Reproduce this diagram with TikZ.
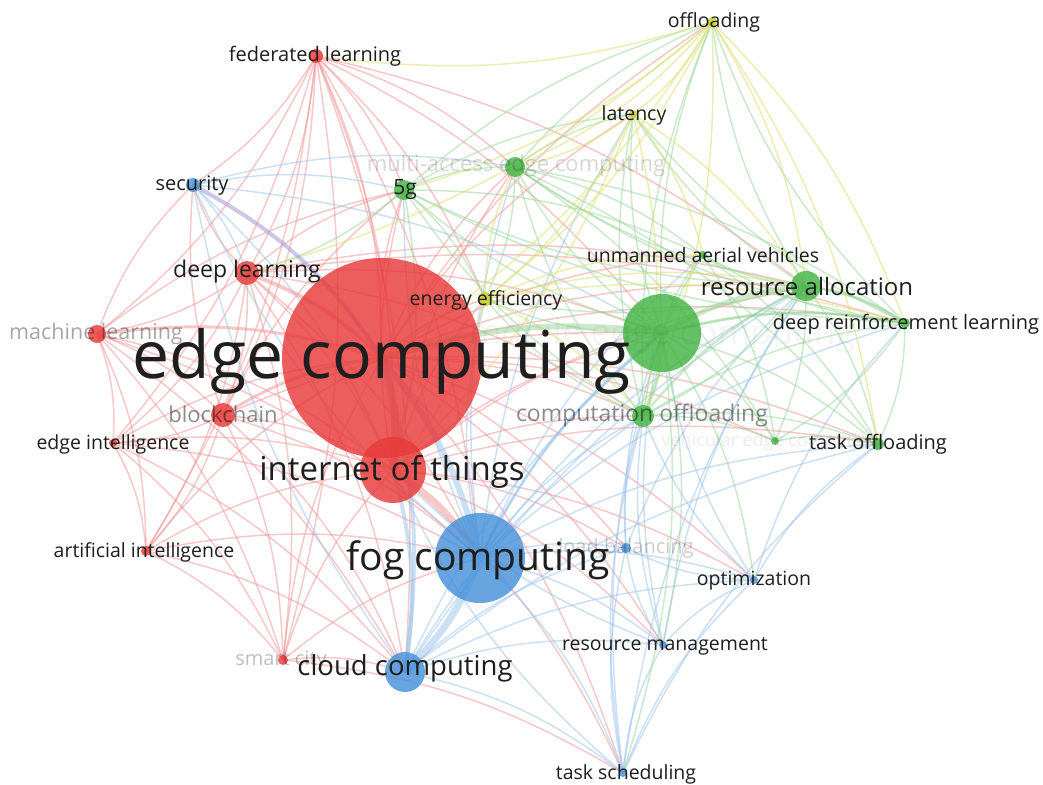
\documentclass[tikz,border=0pt]{standalone}
\usepackage{fontspec}
\setmainfont{Open Sans}
\pgfdeclarelayer{edges}
\pgfsetlayers{edges,main}
\definecolor{cR}{RGB}{232,58,58}
\definecolor{cG}{RGB}{68,180,68}
\definecolor{cB}{RGB}{70,145,218}
\definecolor{cY}{RGB}{200,208,40}
\definecolor{txt}{RGB}{30,30,30}
\definecolor{cP}{RGB}{170,160,215}
\begin{document}
\begin{tikzpicture}[x=1pt,y=-1pt,
  kw/.style={circle,inner sep=0pt,draw=none,fill opacity=0.82},
  lab/.style={inner sep=0pt,text=txt},
  faint/.style={text=black,text opacity=#1},
  fs/.style={font=\fontsize{#1}{#1}\selectfont},
  er/.style={draw=cR!55!white,line width=1.5pt,draw opacity=0.5},
  eb/.style={draw=cB!55!white,line width=1.5pt,draw opacity=0.5},
  eg/.style={draw=cG!55!white,line width=1.5pt,draw opacity=0.5},
  ey/.style={draw=cY!65!white,line width=1.5pt,draw opacity=0.55},
  bnd/.style={bend left=12}]
\useasboundingbox (0,0) rectangle (1043,784);
% ---- nodes (circles)
\node[kw,fill=cR,minimum size=200pt] (ec) at (382,358) {};
\node[kw,fill=cG,minimum size=78pt] (mec) at (662,333) {};
\node[kw,fill=cB,minimum size=90pt] (fog) at (480,558) {};
\node[kw,fill=cR,minimum size=66pt] (iot) at (393,470) {};
\node[kw,fill=cB,minimum size=40pt] (cc) at (405,672) {};
\node[kw,fill=cG,minimum size=30pt] (ra) at (806,286) {};
\node[kw,fill=cG,minimum size=22pt] (co) at (643,416) {};
\node[kw,fill=cR,minimum size=24pt] (dl) at (247,273) {};
\node[kw,fill=cR,minimum size=24pt] (bc) at (223,415) {};
\node[kw,fill=cR,minimum size=18pt] (ml) at (97,334) {};
\node[kw,fill=cG,minimum size=20pt] (g5) at (404,190) {};
\node[kw,fill=cG,minimum size=20pt] (mae) at (515,167) {};
\node[kw,fill=cR,minimum size=14pt] (fl) at (316,56) {};
\node[kw,fill=cB,minimum size=14pt] (sec) at (193,185) {};
\node[kw,fill=cY,minimum size=14pt] (ee) at (485,299) {};
\node[kw,fill=cG,minimum size=12pt] (tof) at (878,444) {};
\node[kw,fill=cG,minimum size=10pt] (drl) at (905,323) {};
\node[kw,fill=cG,minimum size=8pt] (uav) at (703,255) {};
\node[kw,fill=cG,minimum size=8pt] (vec) at (775,441) {};
\node[kw,fill=cY,minimum size=10pt] (off) at (712,22) {};
\node[kw,fill=cY,minimum size=8pt] (lat) at (633,114) {};
\node[kw,fill=cR,minimum size=8pt] (ei) at (113,443) {};
\node[kw,fill=cR,minimum size=10pt] (ai) at (146,551) {};
\node[kw,fill=cR,minimum size=10pt] (sc) at (283,660) {};
\node[kw,fill=cB,minimum size=10pt] (lb) at (626,548) {};
\node[kw,fill=cB,minimum size=8pt] (opt) at (754,580) {};
\node[kw,fill=cB,minimum size=8pt] (rm) at (663,645) {};
\node[kw,fill=cB,minimum size=8pt] (ts) at (623,773) {};
% ---- edges
\begin{pgfonlayer}{edges}
\path[fill=white] (0,0) rectangle (1043,784);
\foreach \a/\b in {ec/co,ec/ra,ec/drl,ec/tof,ec/uav,ec/g5,ec/mae,ec/off,ec/lat,ec/ee,ec/opt,ec/rm,ec/ts,ec/lb,ec/vec,
  iot/g5,iot/mec,iot/co,iot/ra,iot/ee,iot/lb,iot/rm,iot/ts,iot/opt,iot/mae,iot/tof,
  fl/iot,fl/dl,fl/ml,fl/bc,fl/ai,fl/ei,fl/g5,fl/mae,fl/sec,fl/cc,fl/fog,fl/sc,fl/mec,fl/ee,fl/ra,fl/ec,
  dl/iot,dl/ml,dl/bc,dl/ei,dl/ai,dl/sc,dl/cc,dl/fog,dl/g5,dl/sec,dl/mec,dl/co,dl/ra,dl/drl,
  ml/iot,ml/bc,ml/ei,ml/ai,ml/sc,ml/cc,ml/fog,ml/g5,ml/sec,
  bc/iot,bc/ei,bc/ai,bc/sc,bc/cc,bc/fog,bc/g5,bc/sec,bc/mec,
  ei/ec,ei/iot,ei/ai,ei/sc,ei/cc,ei/fog,
  ai/ec,ai/iot,ai/sc,ai/cc,ai/fog,
  sc/ec,sc/iot,sc/cc,sc/fog,sc/ts}
  \draw[er] (\a.center) to[bnd] (\b.center);
\foreach \a/\b in {fog/sec,fog/ts,fog/rm,fog/opt,fog/lb,fog/mec,fog/co,fog/ra,fog/tof,fog/drl,fog/g5,fog/mae,fog/ee,fog/lat,fog/uav,
  cc/sec,cc/ts,cc/rm,cc/opt,cc/lb,cc/mec,cc/co,cc/ra,cc/tof,
  sec/iot,sec/g5,sec/mae,sec/mec,sec/dl,
  ts/rm,ts/opt,ts/lb,ts/co,ts/mec,ts/tof,ts/ra,ts/iot,
  rm/opt,rm/lb,rm/mec,rm/co,rm/ra,rm/iot,
  opt/lb,opt/mec,opt/co,opt/tof,opt/drl,
  lb/mec,lb/co,lb/ra}
  \draw[eb] (\a.center) to[bnd] (\b.center);
\foreach \a/\b in {mec/tof,mec/drl,mec/uav,mec/vec,mec/g5,mec/mae,mec/off,mec/lat,mec/ee,mec/opt,mec/rm,mec/ts,
  ra/co,ra/tof,ra/drl,ra/uav,ra/vec,ra/g5,ra/mae,ra/off,ra/lat,ra/ee,
  co/tof,co/drl,co/uav,co/vec,co/g5,co/mae,co/off,co/lat,co/ee,
  drl/tof,drl/uav,drl/vec,drl/g5,drl/mae,drl/off,drl/lat,
  g5/mae,g5/uav,g5/ee,g5/lat,g5/off,g5/iot,g5/dl,
  mae/uav,mae/off,mae/lat,mae/ee,mae/tof,mae/drl,mae/vec,
  uav/tof,uav/vec,vec/tof}
  \draw[eg] (\a.center) to[bnd] (\b.center);
\foreach \a/\b in {off/lat,off/ee,off/mae,off/ec,off/ra,off/co,off/drl,off/tof,off/fl,off/dl,off/g5,
  lat/ee,lat/mae,lat/co,lat/ra,lat/iot,lat/uav,
  ee/mae,ee/co,ee/ra,ee/drl,ee/uav,ee/iot}
  \draw[ey] (\a.center) to[bnd] (\b.center);
% thick links
\draw[eg,line width=6pt] (ec.center) to[bnd] (mec.center);
\draw[eb,line width=7pt] (fog.center) to[bnd] (cc.center);
\draw[er,line width=6pt] (iot.center) to[bnd] (fog.center);
\draw[eb,line width=6pt] (ec.center) to[bnd] (fog.center);
\draw[er,line width=8pt] (ec.center) to[bnd] (iot.center);
\draw[draw=cP,line width=4pt,draw opacity=0.6] (sec.center) to[bend left=14] (ec.center);
\draw[er,line width=4pt] (dl.center) to[bnd] (ec.center);
\draw[er,line width=3pt] (ml.center) to[bnd] (ec.center);
\draw[eg,line width=5pt] (mec.center) to[bnd] (ra.center);
\draw[eg,line width=4pt] (mec.center) to[bnd] (co.center);
\draw[eb,line width=4pt] (ec.center) to[bnd] (cc.center);
\draw[eb,line width=4pt] (iot.center) to[bnd] (cc.center);
\draw[er,line width=3pt] (bc.center) to[bnd] (ec.center);
\draw[eg,line width=3pt] (mec.center) to[bnd] (drl.center);
\draw[eg,line width=3pt] (ra.center) to[bnd] (drl.center);
\draw[eg,line width=2.5pt] (co.center) to[bnd] (ra.center);
\draw[eb,line width=3pt] (fog.center) to[bnd] (mec.center);
\end{pgfonlayer}
% ---- labels
\node[lab,fs=35,faint=0.04] (mecl) at (662,335) {mobile edge computing};
\node[lab,fs=18,faint=0.08] (vecl) at (770,442) {vehicular edge computing};
\node[lab,fs=22,faint=0.16] (mael) at (516,166) {multi-access edge computing};
\node[lab,fs=20,faint=0.2] (lbl) at (626,548) {load balancing};
\node[lab,fs=20,faint=0.25] (scl) at (281,661) {smart city};
\node[lab,fs=66] (ecl) at (382,361) {edge computing};
\node[lab,fs=33] (iotl) at (392,472) {internet of things};
\node[lab,fs=39] (fogl) at (478,560) {fog computing};
\node[lab,fs=27.5] (ccl) at (405,668) {cloud computing};
\node[lab,fs=24] (ral) at (807,286) {resource allocation};
\node[lab,fs=23,faint=0.45] (col) at (642,415) {computation offloading};
\node[lab,fs=23] (dll) at (247,272) {deep learning};
\node[lab,fs=21.5,faint=0.35] (mll) at (96,334) {machine learning};
\node[lab,fs=22,faint=0.45] (bcl) at (223,414) {blockchain};
\node[lab,fs=21] (g5l) at (405,190) {5g};
\node[lab,fs=20] (secl) at (192,186) {security};
\node[lab,fs=20] (fll) at (315,56) {federated learning};
\node[lab,fs=19.5] (offl) at (714,22) {offloading};
\node[lab,fs=19.5] (latl) at (634,115) {latency};
\node[lab,fs=19.5] (eel) at (486,300) {energy efficiency};
\node[lab,fs=19.5] (uavl) at (703,255) {unmanned aerial vehicles};
\node[lab,fs=20] (drll) at (906,324) {deep reinforcement learning};
\node[lab,fs=20] (tofl) at (878,444) {task offloading};
\node[lab,fs=19.5] (eil) at (113,444) {edge intelligence};
\node[lab,fs=19.5] (ail) at (144,552) {artificial intelligence};
\node[lab,fs=19.5] (optl) at (754,581) {optimization};
\node[lab,fs=19.5] (rml) at (665,646) {resource management};
\node[lab,fs=19.5] (tsl) at (626,774) {task scheduling};
\end{tikzpicture}
\end{document}
